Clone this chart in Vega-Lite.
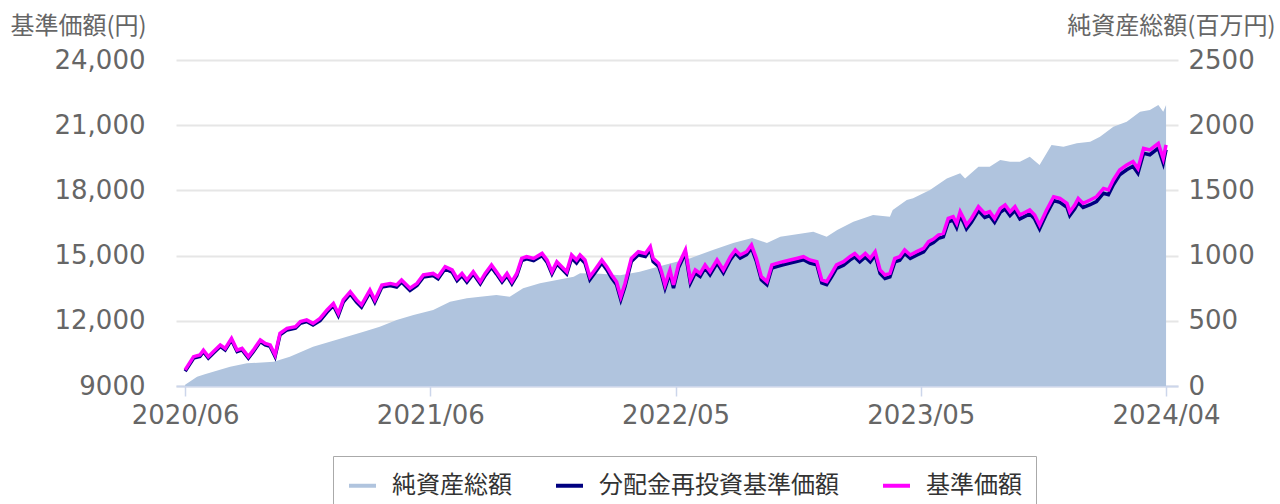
{
  "$schema": "https://vega.github.io/schema/vega-lite/v6.json",
  "width": 1002,
  "height": 326,
  "autosize": "none",
  "padding": {"left": 176, "top": 60, "right": 102, "bottom": 118},
  "background": "white",
  "config": {
    "view": {"stroke": null},
    "font": "DejaVu Sans",
    "axis": {"labelFont": "DejaVu Sans", "labelColor": "#666666", "labelFontSize": 26, "titleFont": "Noto Sans CJK JP", "titleFontSize": 24, "titleFontWeight": "normal", "titleColor": "#666666"}
  },
  "datasets": {
    "nav": [
      {"date": "2020-06-30", "nav": 10}, {"date": "2020-07-17", "nav": 71}, {"date": "2020-07-28", "nav": 90}, {"date": "2020-08-09", "nav": 110},
      {"date": "2020-09-02", "nav": 148}, {"date": "2020-09-26", "nav": 174}, {"date": "2020-11-03", "nav": 186}, {"date": "2020-11-26", "nav": 225},
      {"date": "2020-12-29", "nav": 301}, {"date": "2021-01-22", "nav": 340}, {"date": "2021-02-15", "nav": 378}, {"date": "2021-03-11", "nav": 416},
      {"date": "2021-04-03", "nav": 455}, {"date": "2021-04-27", "nav": 506}, {"date": "2021-05-21", "nav": 545}, {"date": "2021-06-18", "nav": 583},
      {"date": "2021-07-12", "nav": 647}, {"date": "2021-08-05", "nav": 673}, {"date": "2021-08-24", "nav": 685}, {"date": "2021-09-16", "nav": 698},
      {"date": "2021-10-05", "nav": 685}, {"date": "2021-10-24", "nav": 749}, {"date": "2021-11-17", "nav": 788}, {"date": "2021-12-11", "nav": 813},
      {"date": "2022-01-04", "nav": 838}, {"date": "2022-01-13", "nav": 864}, {"date": "2022-02-11", "nav": 860}, {"date": "2022-03-11", "nav": 850},
      {"date": "2022-04-08", "nav": 877}, {"date": "2022-05-01", "nav": 910}, {"date": "2022-05-21", "nav": 940}, {"date": "2022-06-19", "nav": 980},
      {"date": "2022-07-21", "nav": 1043}, {"date": "2022-08-19", "nav": 1097}, {"date": "2022-09-15", "nav": 1135}, {"date": "2022-10-06", "nav": 1097},
      {"date": "2022-10-25", "nav": 1145}, {"date": "2022-12-11", "nav": 1183}, {"date": "2022-12-30", "nav": 1145}, {"date": "2023-01-14", "nav": 1196},
      {"date": "2023-02-06", "nav": 1260}, {"date": "2023-03-06", "nav": 1311}, {"date": "2023-03-30", "nav": 1298}, {"date": "2023-04-03", "nav": 1350},
      {"date": "2023-04-23", "nav": 1427}, {"date": "2023-05-02", "nav": 1439}, {"date": "2023-05-26", "nav": 1503}, {"date": "2023-06-19", "nav": 1592},
      {"date": "2023-07-08", "nav": 1631}, {"date": "2023-07-15", "nav": 1592}, {"date": "2023-08-03", "nav": 1682}, {"date": "2023-08-19", "nav": 1682},
      {"date": "2023-09-03", "nav": 1733}, {"date": "2023-09-17", "nav": 1720}, {"date": "2023-10-01", "nav": 1720}, {"date": "2023-10-15", "nav": 1759},
      {"date": "2023-10-29", "nav": 1695}, {"date": "2023-11-15", "nav": 1848}, {"date": "2023-12-02", "nav": 1835}, {"date": "2023-12-21", "nav": 1861},
      {"date": "2024-01-09", "nav": 1874}, {"date": "2024-01-23", "nav": 1912}, {"date": "2024-02-11", "nav": 1989}, {"date": "2024-03-01", "nav": 2027},
      {"date": "2024-03-20", "nav": 2104}, {"date": "2024-04-03", "nav": 2117}, {"date": "2024-04-15", "nav": 2155}, {"date": "2024-04-22", "nav": 2104},
      {"date": "2024-04-26", "nav": 2155}
    ],
    "price": [
      {"date": "2020-06-30", "price": 9740, "reinvest": 9680}, {"date": "2020-07-12", "price": 10350, "reinvest": 10280},
      {"date": "2020-07-21", "price": 10430, "reinvest": 10360}, {"date": "2020-07-26", "price": 10650, "reinvest": 10580},
      {"date": "2020-08-02", "price": 10350, "reinvest": 10280}, {"date": "2020-08-09", "price": 10580, "reinvest": 10510},
      {"date": "2020-08-19", "price": 10890, "reinvest": 10820}, {"date": "2020-08-26", "price": 10730, "reinvest": 10660},
      {"date": "2020-09-04", "price": 11190, "reinvest": 11120}, {"date": "2020-09-12", "price": 10650, "reinvest": 10580},
      {"date": "2020-09-19", "price": 10730, "reinvest": 10660}, {"date": "2020-09-28", "price": 10350, "reinvest": 10280},
      {"date": "2020-10-05", "price": 10650, "reinvest": 10580}, {"date": "2020-10-15", "price": 11120, "reinvest": 11050},
      {"date": "2020-10-22", "price": 10960, "reinvest": 10890}, {"date": "2020-10-29", "price": 10890, "reinvest": 10820},
      {"date": "2020-11-05", "price": 10430, "reinvest": 10360}, {"date": "2020-11-12", "price": 11420, "reinvest": 11350},
      {"date": "2020-11-22", "price": 11650, "reinvest": 11580}, {"date": "2020-12-04", "price": 11730, "reinvest": 11660},
      {"date": "2020-12-11", "price": 11960, "reinvest": 11890}, {"date": "2020-12-20", "price": 12040, "reinvest": 11970},
      {"date": "2020-12-29", "price": 11880, "reinvest": 11810}, {"date": "2021-01-08", "price": 12110, "reinvest": 12010},
      {"date": "2021-01-18", "price": 12500, "reinvest": 12400}, {"date": "2021-01-27", "price": 12800, "reinvest": 12700},
      {"date": "2021-02-03", "price": 12340, "reinvest": 12240}, {"date": "2021-02-10", "price": 12960, "reinvest": 12860},
      {"date": "2021-02-20", "price": 13340, "reinvest": 13240}, {"date": "2021-03-01", "price": 12960, "reinvest": 12860},
      {"date": "2021-03-08", "price": 12730, "reinvest": 12630}, {"date": "2021-03-20", "price": 13420, "reinvest": 13320},
      {"date": "2021-03-27", "price": 12960, "reinvest": 12860}, {"date": "2021-04-06", "price": 13650, "reinvest": 13550},
      {"date": "2021-04-18", "price": 13720, "reinvest": 13620}, {"date": "2021-04-27", "price": 13650, "reinvest": 13550},
      {"date": "2021-05-04", "price": 13880, "reinvest": 13780}, {"date": "2021-05-16", "price": 13500, "reinvest": 13400},
      {"date": "2021-05-26", "price": 13720, "reinvest": 13620}, {"date": "2021-06-04", "price": 14110, "reinvest": 14010},
      {"date": "2021-06-18", "price": 14180, "reinvest": 14080}, {"date": "2021-06-25", "price": 14030, "reinvest": 13930},
      {"date": "2021-07-05", "price": 14490, "reinvest": 14390}, {"date": "2021-07-15", "price": 14340, "reinvest": 14240},
      {"date": "2021-07-22", "price": 13950, "reinvest": 13850}, {"date": "2021-07-29", "price": 14180, "reinvest": 14080},
      {"date": "2021-08-05", "price": 13880, "reinvest": 13780}, {"date": "2021-08-14", "price": 14260, "reinvest": 14160},
      {"date": "2021-08-24", "price": 13800, "reinvest": 13700}, {"date": "2021-08-31", "price": 14180, "reinvest": 14080},
      {"date": "2021-09-09", "price": 14570, "reinvest": 14470}, {"date": "2021-09-16", "price": 14260, "reinvest": 14160},
      {"date": "2021-09-24", "price": 13880, "reinvest": 13780}, {"date": "2021-10-01", "price": 14180, "reinvest": 14080},
      {"date": "2021-10-08", "price": 13800, "reinvest": 13700}, {"date": "2021-10-15", "price": 14180, "reinvest": 14080},
      {"date": "2021-10-22", "price": 14870, "reinvest": 14770}, {"date": "2021-10-29", "price": 14950, "reinvest": 14850},
      {"date": "2021-11-08", "price": 14870, "reinvest": 14770}, {"date": "2021-11-20", "price": 15100, "reinvest": 15000},
      {"date": "2021-11-27", "price": 14800, "reinvest": 14700}, {"date": "2021-12-04", "price": 14260, "reinvest": 14160},
      {"date": "2021-12-11", "price": 14720, "reinvest": 14620}, {"date": "2021-12-18", "price": 14490, "reinvest": 14390},
      {"date": "2021-12-25", "price": 14260, "reinvest": 14160}, {"date": "2022-01-01", "price": 15030, "reinvest": 14890},
      {"date": "2022-01-08", "price": 14800, "reinvest": 14660}, {"date": "2022-01-13", "price": 15030, "reinvest": 14890},
      {"date": "2022-01-20", "price": 14800, "reinvest": 14660}, {"date": "2022-01-27", "price": 14030, "reinvest": 13890},
      {"date": "2022-02-03", "price": 14340, "reinvest": 14200}, {"date": "2022-02-13", "price": 14800, "reinvest": 14660},
      {"date": "2022-02-20", "price": 14490, "reinvest": 14350}, {"date": "2022-02-27", "price": 14110, "reinvest": 13970},
      {"date": "2022-03-06", "price": 13800, "reinvest": 13660}, {"date": "2022-03-12", "price": 13110, "reinvest": 12970},
      {"date": "2022-03-18", "price": 13720, "reinvest": 13580}, {"date": "2022-03-27", "price": 14870, "reinvest": 14730},
      {"date": "2022-04-06", "price": 15180, "reinvest": 15040}, {"date": "2022-04-16", "price": 15100, "reinvest": 14960},
      {"date": "2022-04-23", "price": 15410, "reinvest": 15270}, {"date": "2022-04-27", "price": 14870, "reinvest": 14730},
      {"date": "2022-05-05", "price": 14640, "reinvest": 14500}, {"date": "2022-05-09", "price": 14260, "reinvest": 14120},
      {"date": "2022-05-14", "price": 13650, "reinvest": 13510}, {"date": "2022-05-21", "price": 14340, "reinvest": 14200},
      {"date": "2022-05-26", "price": 13650, "reinvest": 13510}, {"date": "2022-06-02", "price": 14570, "reinvest": 14430},
      {"date": "2022-06-12", "price": 15260, "reinvest": 15120}, {"date": "2022-06-19", "price": 13880, "reinvest": 13740},
      {"date": "2022-06-26", "price": 14340, "reinvest": 14200}, {"date": "2022-07-03", "price": 14180, "reinvest": 14040},
      {"date": "2022-07-10", "price": 14570, "reinvest": 14430}, {"date": "2022-07-17", "price": 14260, "reinvest": 14120},
      {"date": "2022-07-27", "price": 14800, "reinvest": 14660}, {"date": "2022-08-05", "price": 14340, "reinvest": 14200},
      {"date": "2022-08-15", "price": 14950, "reinvest": 14810}, {"date": "2022-08-22", "price": 15260, "reinvest": 15120},
      {"date": "2022-08-29", "price": 15030, "reinvest": 14890}, {"date": "2022-09-07", "price": 15180, "reinvest": 15040},
      {"date": "2022-09-14", "price": 15490, "reinvest": 15350}, {"date": "2022-09-21", "price": 14870, "reinvest": 14730},
      {"date": "2022-09-28", "price": 14030, "reinvest": 13890}, {"date": "2022-10-06", "price": 13800, "reinvest": 13660},
      {"date": "2022-10-13", "price": 14570, "reinvest": 14430}, {"date": "2022-10-20", "price": 14640, "reinvest": 14500},
      {"date": "2022-10-29", "price": 14720, "reinvest": 14580}, {"date": "2022-11-08", "price": 14800, "reinvest": 14660},
      {"date": "2022-11-17", "price": 14870, "reinvest": 14730}, {"date": "2022-11-27", "price": 14950, "reinvest": 14810},
      {"date": "2022-12-06", "price": 14800, "reinvest": 14660}, {"date": "2022-12-16", "price": 14720, "reinvest": 14580},
      {"date": "2022-12-23", "price": 13880, "reinvest": 13740}, {"date": "2022-12-30", "price": 13800, "reinvest": 13660},
      {"date": "2023-01-06", "price": 14180, "reinvest": 14020}, {"date": "2023-01-13", "price": 14570, "reinvest": 14410},
      {"date": "2023-01-23", "price": 14720, "reinvest": 14560}, {"date": "2023-02-01", "price": 14950, "reinvest": 14790},
      {"date": "2023-02-08", "price": 15100, "reinvest": 14940}, {"date": "2023-02-15", "price": 14870, "reinvest": 14710},
      {"date": "2023-02-23", "price": 15100, "reinvest": 14940}, {"date": "2023-03-02", "price": 14870, "reinvest": 14710},
      {"date": "2023-03-09", "price": 15180, "reinvest": 15020}, {"date": "2023-03-16", "price": 14340, "reinvest": 14180},
      {"date": "2023-03-23", "price": 14110, "reinvest": 13950}, {"date": "2023-03-30", "price": 14180, "reinvest": 14020},
      {"date": "2023-04-06", "price": 14870, "reinvest": 14710}, {"date": "2023-04-13", "price": 14950, "reinvest": 14790},
      {"date": "2023-04-20", "price": 15260, "reinvest": 15100}, {"date": "2023-04-28", "price": 15030, "reinvest": 14870},
      {"date": "2023-05-07", "price": 15180, "reinvest": 15020}, {"date": "2023-05-17", "price": 15330, "reinvest": 15170},
      {"date": "2023-05-24", "price": 15640, "reinvest": 15480}, {"date": "2023-05-31", "price": 15760, "reinvest": 15600},
      {"date": "2023-06-07", "price": 15950, "reinvest": 15790}, {"date": "2023-06-14", "price": 16020, "reinvest": 15860},
      {"date": "2023-06-21", "price": 16710, "reinvest": 16550}, {"date": "2023-06-28", "price": 16790, "reinvest": 16630},
      {"date": "2023-07-03", "price": 16480, "reinvest": 16300}, {"date": "2023-07-08", "price": 17020, "reinvest": 16840},
      {"date": "2023-07-13", "price": 16710, "reinvest": 16530}, {"date": "2023-07-17", "price": 16410, "reinvest": 16230},
      {"date": "2023-07-24", "price": 16710, "reinvest": 16530}, {"date": "2023-08-03", "price": 17250, "reinvest": 17070},
      {"date": "2023-08-12", "price": 16940, "reinvest": 16760}, {"date": "2023-08-19", "price": 17020, "reinvest": 16840},
      {"date": "2023-08-26", "price": 16710, "reinvest": 16530}, {"date": "2023-09-03", "price": 17170, "reinvest": 16990},
      {"date": "2023-09-10", "price": 17330, "reinvest": 17150}, {"date": "2023-09-17", "price": 17020, "reinvest": 16840},
      {"date": "2023-09-24", "price": 17250, "reinvest": 17070}, {"date": "2023-10-01", "price": 16870, "reinvest": 16690},
      {"date": "2023-10-15", "price": 17100, "reinvest": 16920}, {"date": "2023-10-22", "price": 16870, "reinvest": 16690},
      {"date": "2023-10-29", "price": 16410, "reinvest": 16230}, {"date": "2023-11-08", "price": 17100, "reinvest": 16920},
      {"date": "2023-11-18", "price": 17710, "reinvest": 17530}, {"date": "2023-11-27", "price": 17630, "reinvest": 17450},
      {"date": "2023-12-07", "price": 17400, "reinvest": 17220}, {"date": "2023-12-11", "price": 17020, "reinvest": 16840},
      {"date": "2023-12-18", "price": 17330, "reinvest": 17150}, {"date": "2023-12-23", "price": 17630, "reinvest": 17450},
      {"date": "2023-12-30", "price": 17400, "reinvest": 17220}, {"date": "2024-01-09", "price": 17560, "reinvest": 17340},
      {"date": "2024-01-18", "price": 17710, "reinvest": 17490}, {"date": "2024-01-28", "price": 18090, "reinvest": 17870},
      {"date": "2024-02-04", "price": 18020, "reinvest": 17800}, {"date": "2024-02-11", "price": 18480, "reinvest": 18260},
      {"date": "2024-02-20", "price": 18940, "reinvest": 18720}, {"date": "2024-03-01", "price": 19170, "reinvest": 18950},
      {"date": "2024-03-10", "price": 19330, "reinvest": 19110}, {"date": "2024-03-17", "price": 19010, "reinvest": 18790},
      {"date": "2024-03-25", "price": 19930, "reinvest": 19710}, {"date": "2024-04-03", "price": 19860, "reinvest": 19640},
      {"date": "2024-04-15", "price": 20160, "reinvest": 19940}, {"date": "2024-04-22", "price": 19470, "reinvest": 19250},
      {"date": "2024-04-26", "price": 20090, "reinvest": 19870}
    ]
  },
  "encoding": {
    "x": {
      "field": "date", "type": "temporal",
      "scale": {"type": "utc", "domain": [{"year": 2020, "month": 6, "date": 17, "utc": true}, {"year": 2024, "month": 5, "date": 13, "utc": true}], "nice": false},
      "axis": {
        "title": null, "grid": false,
        "values": [{"year": 2020, "month": 6, "date": 30, "utc": true}, {"year": 2021, "month": 6, "date": 14, "utc": true}, {"year": 2022, "month": 5, "date": 29, "utc": true}, {"year": 2023, "month": 5, "date": 13, "utc": true}, {"year": 2024, "month": 4, "date": 26, "utc": true}],
        "labelExpr": "utcFormat(datum.value, '%Y/%m')",
        "domainColor": "#ccd6eb", "domainWidth": 2, "tickColor": "#ccd6eb", "tickWidth": 1.5, "tickSize": 10,
        "labelPadding": 6, "labelFontSize": 26, "labelFlush": false, "labelOverlap": false
      }
    }
  },
  "layer": [
    {
      "data": {"name": "nav"},
      "mark": {"type": "area", "color": "#b0c4de", "opacity": 1, "line": false},
      "encoding": {
        "y": {
          "field": "nav", "type": "quantitative",
          "scale": {"domain": [0, 2500], "nice": false, "zero": false},
          "axis": {
            "orient": "right", "title": "純資産総額(百万円)", "titleAngle": 0, "titleAlign": "right", "titleBaseline": "alphabetic",
            "titleX": 97, "titleY": -27, "grid": false, "domain": false, "ticks": false, "tickSize": 0,
            "values": [0, 500, 1000, 1500, 2000, 2500], "format": "d", "labelPadding": 10, "labelFontSize": 26
          }
        },
        "color": {
          "datum": "純資産総額",
          "scale": {"domain": ["純資産総額", "分配金再投資基準価額", "基準価額"], "range": ["#b0c4de", "#000080", "#ff00ff"]},
          "legend": {
            "orient": "none", "legendX": 157, "legendY": 396, "direction": "horizontal", "title": null,
            "labelFont": "Noto Sans CJK JP", "labelFontSize": 24, "labelColor": "#333333", "labelOffset": 14, "labelLimit": 0,
            "strokeColor": "#aaaaaa", "padding": 14, "columnPadding": 36,
            "symbolType": "stroke", "symbolSize": 729, "symbolStrokeWidth": 4, "symbolOpacity": 1
          }
        }
      }
    },
    {
      "data": {"name": "price"},
      "layer": [
        {
          "mark": {"type": "line", "strokeWidth": 3.5, "interpolate": "linear"},
          "encoding": {
            "y": {
              "field": "reinvest", "type": "quantitative",
              "scale": {"domain": [9000, 24000], "nice": false, "zero": false},
              "axis": {
                "orient": "left", "title": "基準価額(円)", "titleAngle": 0, "titleAlign": "left", "titleBaseline": "alphabetic",
                "titleX": -166, "titleY": -27, "grid": true, "gridColor": "#e6e6e6", "gridWidth": 2, "domain": false, "ticks": false, "tickSize": 0,
                "values": [9000, 12000, 15000, 18000, 21000, 24000],
                "labelExpr": "datum.value >= 10000 ? format(datum.value, ',') : format(datum.value, 'd')",
                "labelPadding": 31, "labelFontSize": 26
              }
            },
            "color": {"datum": "分配金再投資基準価額"}
          }
        },
        {
          "mark": {"type": "line", "strokeWidth": 3.5, "interpolate": "linear"},
          "encoding": {
            "y": {"field": "price", "type": "quantitative"},
            "color": {"datum": "基準価額"}
          }
        }
      ]
    }
  ],
  "resolve": {"scale": {"y": "independent"}}
}
